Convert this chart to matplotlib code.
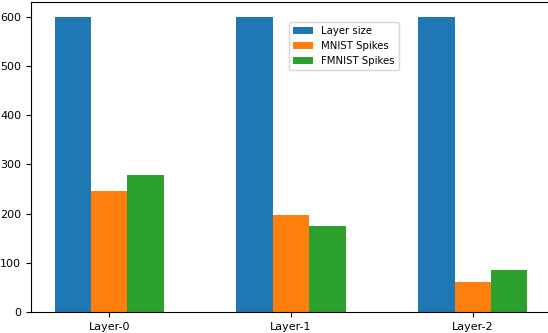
import numpy as np
import matplotlib.pyplot as plt

layers = ['Layer-0', 'Layer-1', 'Layer-2']
layer_size = [600, 600, 600]
mnist_spikes = [245, 197, 60]
fmnist_spikes = [278, 174, 85]

plt.rcParams['font.size'] = 8

x = np.arange(len(layers))
w = 0.2

fig = plt.figure(figsize=(5.48, 3.33), dpi=100)
ax = fig.add_axes([31 / 548, 21 / 333, 520 / 548, 310 / 333])

ax.bar(x - w, layer_size, w, label='Layer size')
ax.bar(x, mnist_spikes, w, label='MNIST Spikes')
ax.bar(x + w, fmnist_spikes, w, label='FMNIST Spikes')

ax.set_xticks(x)
ax.set_xticklabels(layers)
ax.legend(loc='upper left', bbox_to_anchor=(0.486, 0.953), fontsize=7.3)

fig.savefig('out.png', dpi=100)
